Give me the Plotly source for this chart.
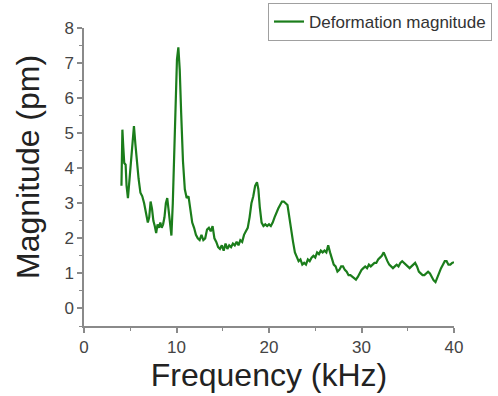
import plotly.graph_objects as go

freq_khz = [4.05, 4.15, 4.25, 4.35, 4.5, 4.6, 4.75, 4.9, 5.1, 5.3, 5.4, 5.55, 5.7, 5.9, 6.1, 6.3, 6.5, 6.7, 6.9, 7.05,
            7.2, 7.35, 7.5, 7.65, 7.8, 7.95, 8.1, 8.25, 8.4, 8.55, 8.7, 8.85, 9.0, 9.15, 9.3, 9.45, 9.6, 9.75, 9.9, 10.05,
            10.2, 10.35, 10.5, 10.7, 10.9, 11.1, 11.3, 11.5, 11.7, 11.9, 12.1, 12.3, 12.5, 12.7, 12.9, 13.1, 13.3, 13.5, 13.7, 13.9,
            14.1, 14.3, 14.5, 14.7, 14.9, 15.1, 15.3, 15.5, 15.7, 15.9, 16.1, 16.3, 16.5, 16.7, 16.9, 17.1, 17.3, 17.5, 17.7, 17.9,
            18.1, 18.3, 18.5, 18.7, 18.85, 19.0, 19.2, 19.4, 19.6, 19.8, 20.0, 20.2, 20.4, 20.6, 20.8, 21.0, 21.2, 21.4, 21.6, 21.8,
            22.0, 22.2, 22.4, 22.6, 22.8, 23.0, 23.2, 23.4, 23.6, 23.8, 24.0, 24.2, 24.4, 24.6, 24.8, 25.0, 25.2, 25.4, 25.6, 25.8,
            26.0, 26.2, 26.4, 26.6, 26.8, 27.0, 27.2, 27.4, 27.6, 27.8, 28.0, 28.2, 28.4, 28.6, 28.8, 29.0, 29.2, 29.4, 29.6, 29.8,
            30.0, 30.2, 30.4, 30.6, 30.8, 31.0, 31.2, 31.4, 31.6, 31.8, 32.0, 32.2, 32.4, 32.6, 32.8, 33.0, 33.2, 33.4, 33.6, 33.8,
            34.0, 34.2, 34.4, 34.6, 34.8, 35.0, 35.2, 35.4, 35.6, 35.8, 36.0, 36.2, 36.4, 36.6, 36.8, 37.0, 37.2, 37.4, 37.6, 37.8,
            38.0, 38.2, 38.4, 38.6, 38.8, 39.0, 39.2, 39.4, 39.6, 39.8, 40.0]

magnitude_pm = [3.5, 5.1, 4.6, 4.15, 4.1, 3.5, 3.15, 3.6, 4.4, 5.0, 5.2, 4.7, 4.2, 3.7, 3.3, 3.2, 3.0, 2.7, 2.45, 2.6,
                3.05, 2.85, 2.5, 2.35, 2.15, 2.4, 2.3, 2.45, 2.3, 2.4, 2.6, 3.0, 3.15, 2.8, 2.4, 2.08, 3.0, 4.6, 6.2, 7.1,
                7.45, 6.8, 5.6, 4.2, 3.4, 3.15, 3.2, 2.8, 2.45, 2.3, 2.1, 2.0, 1.95, 2.1, 1.95, 2.0, 2.25, 2.3, 2.2, 2.35,
                2.0, 1.9, 1.75, 1.7, 1.8, 1.65, 1.85, 1.7, 1.8, 1.75, 1.85, 1.8, 1.9, 1.8, 1.95, 1.9, 2.1, 2.2, 2.3, 2.6,
                3.0, 3.2, 3.5, 3.6, 3.4, 2.9, 2.45, 2.35, 2.4, 2.35, 2.4, 2.35, 2.45, 2.6, 2.75, 2.85, 2.95, 3.05, 3.05, 3.0,
                2.95, 2.6, 2.2, 1.9, 1.6, 1.45, 1.35, 1.4, 1.25, 1.3, 1.25, 1.4, 1.35, 1.45, 1.5, 1.45, 1.6, 1.55, 1.65, 1.6,
                1.65, 1.6, 1.8, 1.6, 1.4, 1.25, 1.2, 1.05, 1.1, 1.2, 1.2, 1.1, 1.05, 0.95, 0.95, 0.9, 0.85, 0.82, 0.9, 1.0,
                1.1, 1.15, 1.2, 1.15, 1.25, 1.2, 1.25, 1.3, 1.3, 1.4, 1.45, 1.5, 1.6, 1.45, 1.35, 1.25, 1.2, 1.15, 1.2, 1.25,
                1.2, 1.3, 1.35, 1.3, 1.25, 1.2, 1.15, 1.2, 1.25, 1.3, 1.2, 1.05, 1.0, 0.95, 0.95, 1.0, 1.05, 1.0, 0.9, 0.8,
                0.75, 0.9, 1.05, 1.15, 1.25, 1.35, 1.35, 1.25, 1.25, 1.3, 1.32]

x_ticks = [0, 10, 20, 30, 40]
y_ticks = [0, 1, 2, 3, 4, 5, 6, 7, 8]
y_title = "Magnitude (pm)"
x_title = "Frequency (kHz)"

FONT = "Liberation Sans, Arial, sans-serif"
AXIS_COLOR = "#8a8a8a"

fig = go.Figure()
fig.add_trace(go.Scatter(
    x=freq_khz, y=magnitude_pm, mode="lines",
    name="Deformation magnitude",
    line=dict(color="#1b7d1b", width=2.2),
))

fig.update_layout(
    width=498, height=396,
    margin=dict(l=84, r=44, t=28, b=70, autoexpand=False),
    paper_bgcolor="white", plot_bgcolor="white",
    font=dict(family=FONT, color="#444444"),
    showlegend=True,
    legend=dict(
        xref="container", yref="container",
        x=492 / 498, xanchor="right", y=1 - 3 / 396, yanchor="top",
        bgcolor="white", bordercolor="#a0a0a0", borderwidth=1,
        font=dict(family=FONT, size=17, color="#333333"),
        itemwidth=30, tracegroupgap=0,
    ),
    xaxis=dict(
        range=[0, 40], tickvals=x_ticks, ticktext=[str(v) for v in x_ticks],
        showgrid=False, zeroline=False, automargin=False,
        showline=True, linecolor=AXIS_COLOR, linewidth=1.5,
        ticks="outside", ticklen=5, tickwidth=1.5, tickcolor=AXIS_COLOR,
        minor=dict(dtick=5, ticks="outside", ticklen=3, tickwidth=1, tickcolor=AXIS_COLOR),
        tickfont=dict(family=FONT, size=17, color="#444444"),
        title=dict(text=x_title, font=dict(family=FONT, size=32, color="#222222"), standoff=4),
    ),
    yaxis=dict(
        range=[-0.5, 8], tickvals=y_ticks, ticktext=[str(v) for v in y_ticks],
        showgrid=False, zeroline=False, automargin=False,
        showline=True, linecolor=AXIS_COLOR, linewidth=1.5,
        ticks="outside", ticklen=5, tickwidth=1.5, tickcolor=AXIS_COLOR,
        minor=dict(dtick=0.5, tick0=0, ticks="outside", ticklen=3, tickwidth=1, tickcolor=AXIS_COLOR),
        tickfont=dict(family=FONT, size=17, color="#444444"),
    ),
    annotations=[dict(
        text=y_title, textangle=-90, showarrow=False,
        xref="paper", yref="paper", x=-0.153, y=0.535,
        xanchor="center", yanchor="middle",
        font=dict(family=FONT, size=32, color="#222222"),
    )],
)

fig.write_html("out.html")
